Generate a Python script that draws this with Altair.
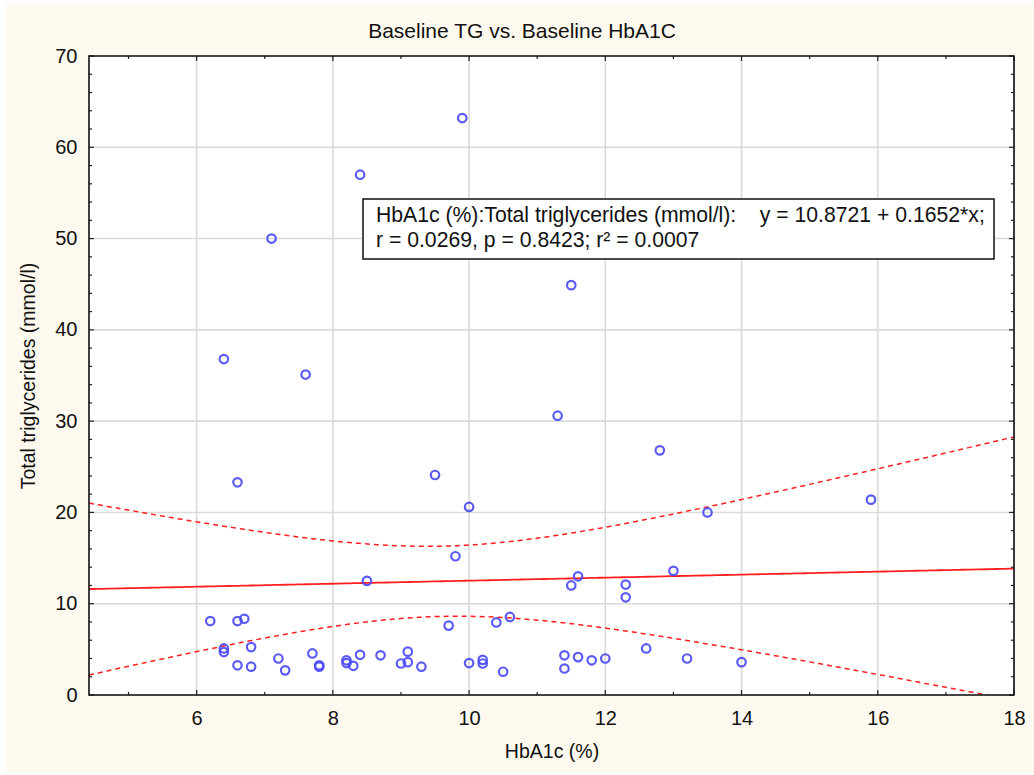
import altair as alt
import numpy as np
import pandas as pd

# HbA1c (%) and total triglycerides (mmol/l) per patient
hba1c = [9.9, 8.4, 7.1, 11.5, 6.4, 7.6, 6.6, 9.5, 10.0, 11.3, 12.8, 13.5, 15.9,
         9.8, 8.5, 11.6, 11.5, 12.3, 12.3, 13.0,
         6.2, 6.6, 6.7, 6.4, 6.4, 6.8, 6.6, 6.8, 7.2, 7.3, 7.7, 7.8, 7.8,
         8.2, 8.2, 8.3, 8.4, 8.7, 9.0, 9.1, 9.1, 9.3, 9.7, 10.0, 10.2, 10.2,
         10.5, 10.4, 10.6, 11.4, 11.4, 11.6, 11.8, 12.0, 12.6, 13.2, 14.0]
tg = [63.2, 57.0, 50.0, 44.9, 36.8, 35.1, 23.3, 24.1, 20.6, 30.6, 26.8, 20.0, 21.4,
      15.2, 12.5, 13.0, 12.0, 12.1, 10.7, 13.6,
      8.1, 8.1, 8.35, 5.1, 4.7, 5.25, 3.25, 3.1, 4.0, 2.7, 4.55, 3.25, 3.1,
      3.8, 3.5, 3.2, 4.4, 4.35, 3.45, 4.75, 3.6, 3.1, 7.6, 3.5, 3.85, 3.45,
      2.55, 7.95, 8.55, 4.35, 2.9, 4.15, 3.8, 4.0, 5.1, 4.0, 3.6]

# Fitted model reported in the legend box
intercept, slope = 10.8721, 0.1652
t_crit = 2.004  # two-sided 95 %, df = n - 2 = 55

x_major = [6, 8, 10, 12, 14, 16, 18]
x_minor = [5, 7, 9, 11, 13, 15, 17]
y_major = [0, 10, 20, 30, 40, 50, 60, 70]
y_minor = [2, 4, 6, 8, 12, 14, 16, 18, 22, 24, 26, 28, 32, 34, 36, 38,
           42, 44, 46, 48, 52, 54, 56, 58, 62, 64, 66, 68]
x_lo, x_hi = 4.42, 18
y_lo, y_hi = 0, 70

title_text = "Baseline TG vs. Baseline HbA1C"
x_title = "HbA1c (%)"
y_title = "Total triglycerides (mmol/l)"
note_lines = [
    "HbA1c (%):Total triglycerides (mmol/l):\u00a0\u00a0\u00a0\u00a0y = 10.8721 + 0.1652*x;",
    "r = 0.0269, p = 0.8423; r\u00b2 = 0.0007",
]

FONT = "Liberation Sans"
W, H = 925, 639
CREAM = "#fef9ee"
BLUE = "#4a4af8"
RED = "#ff1f1f"

# Regression line and 95 % confidence band for the mean
xs = np.array(hba1c)
ys = np.array(tg)
n = len(xs)
resid = ys - (intercept + slope * xs)
s = np.sqrt((resid ** 2).sum() / (n - 2))
xbar = xs.mean()
sxx = ((xs - xbar) ** 2).sum()
grid = np.linspace(x_lo, x_hi, 200)
fit = intercept + slope * grid
half = t_crit * s * np.sqrt(1.0 / n + (grid - xbar) ** 2 / sxx)

pts = pd.DataFrame({"hba1c": hba1c, "tg": tg})
fit_df = pd.DataFrame({"hba1c": grid, "tg": fit})
band_df = pd.concat([
    pd.DataFrame({"hba1c": grid, "tg": fit + half, "band": "upper"}),
    pd.DataFrame({"hba1c": grid, "tg": fit - half, "band": "lower"}),
])

xscale = alt.Scale(domain=[x_lo, x_hi], nice=False, zero=False)
yscale = alt.Scale(domain=[y_lo, y_hi], nice=False, zero=False)
xaxis = alt.Axis(title=x_title, values=x_major, grid=False, ticks=False, tickSize=0,
                 domain=False, labelPadding=13, titlePadding=14, zindex=1,
                 labelFontSize=20, titleFontSize=19.5, labelFont=FONT, titleFont=FONT,
                 titleFontWeight="normal", labelColor="#111", titleColor="#111",
                 labelFlush=False)
yaxis = alt.Axis(title=y_title, values=y_major, grid=False, ticks=False, tickSize=0,
                 domain=False, labelPadding=12, titlePadding=16, zindex=1,
                 labelFontSize=20, titleFontSize=19.5, labelFont=FONT, titleFont=FONT,
                 titleFontWeight="normal", labelColor="#111", titleColor="#111",
                 labelFlush=False)


def X(field):
    return alt.X(field, type="quantitative", scale=xscale, axis=xaxis)


def Y(field):
    return alt.Y(field, type="quantitative", scale=yscale, axis=yaxis)


one = pd.DataFrame({"k": [0]})

# page and plot backgrounds
page = alt.Chart(one).mark_rect(color=CREAM).encode(
    x=alt.value(-83), x2=alt.value(W + 20), y=alt.value(-52), y2=alt.value(H + 77))
panel = alt.Chart(one).mark_rect(color="white").encode(
    x=alt.value(0), x2=alt.value(W), y=alt.value(0), y2=alt.value(H))

# chart title, centred on the page
title = alt.Chart(one).mark_text(
    text=title_text, align="center", baseline="alphabetic", font=FONT, fontSize=21,
    color="#111").encode(x=alt.value(433), y=alt.value(-18))

# grid lines
vgrid = alt.Chart(pd.DataFrame({"v": x_major})).mark_rule(
    color="#dadada", strokeWidth=1.6).encode(x=X("v"), y=alt.value(0), y2=alt.value(H))
hgrid = alt.Chart(pd.DataFrame({"v": y_major})).mark_rule(
    color="#dadada", strokeWidth=1.6).encode(y=Y("v"), x=alt.value(0), x2=alt.value(W))


# inward tick marks on all four sides
def xticks(vals, length):
    d = pd.DataFrame({"v": vals})
    bottom = alt.Chart(d).mark_rule(color="#222", strokeWidth=1.2).encode(
        x=X("v"), y=alt.value(H), y2=alt.value(H - length))
    top = alt.Chart(d).mark_rule(color="#222", strokeWidth=1.2).encode(
        x=X("v"), y=alt.value(0), y2=alt.value(length))
    return [bottom, top]


def yticks(vals, length):
    d = pd.DataFrame({"v": vals})
    left = alt.Chart(d).mark_rule(color="#222", strokeWidth=1.2).encode(
        y=Y("v"), x=alt.value(0), x2=alt.value(length))
    right = alt.Chart(d).mark_rule(color="#222", strokeWidth=1.2).encode(
        y=Y("v"), x=alt.value(W), x2=alt.value(W - length))
    return [left, right]


tick_layers = xticks(x_major, 5) + xticks(x_minor, 3) + yticks(y_major, 5) + yticks(y_minor, 3)

bands = alt.Chart(band_df).mark_line(
    color=RED, strokeWidth=1.5, strokeDash=[5, 4], clip=True).encode(
    x=X("hba1c"), y=Y("tg"), detail="band:N", order="hba1c:Q")
line = alt.Chart(fit_df).mark_line(color=RED, strokeWidth=1.8, clip=True).encode(
    x=X("hba1c"), y=Y("tg"))
points = alt.Chart(pts).mark_point(
    shape="circle", filled=False, color=BLUE, size=72, strokeWidth=2.2, opacity=0.9).encode(
    x=X("hba1c"), y=Y("tg"))

# statistics box
box = alt.Chart(one).mark_rect(fill="white", stroke="#111", strokeWidth=1.5).encode(
    x=alt.value(274), x2=alt.value(905), y=alt.value(143), y2=alt.value(203))
note1 = alt.Chart(one).mark_text(
    text=note_lines[0], align="left", baseline="alphabetic", font=FONT, fontSize=21.2,
    color="#111").encode(x=alt.value(287), y=alt.value(166))
note2 = alt.Chart(one).mark_text(
    text=note_lines[1], align="left", baseline="alphabetic", font=FONT, fontSize=21.2,
    color="#111").encode(x=alt.value(287), y=alt.value(191))

frame = alt.Chart(one).mark_rect(fill=None, stroke="#111", strokeWidth=1.6).encode(
    x=alt.value(0), x2=alt.value(W), y=alt.value(0), y2=alt.value(H))

chart = alt.layer(
    page, panel, title, vgrid, hgrid, *tick_layers, bands, line, points, box, note1, note2,
    frame
).properties(
    width=W,
    height=H,
    padding={"left": 89, "top": 56, "right": 20, "bottom": 80},
    autosize=alt.AutoSizeParams(type="none"),
    background="white",
).configure_view(stroke=None)

chart.save("out.html", embed_options={"renderer": "svg", "actions": False})
